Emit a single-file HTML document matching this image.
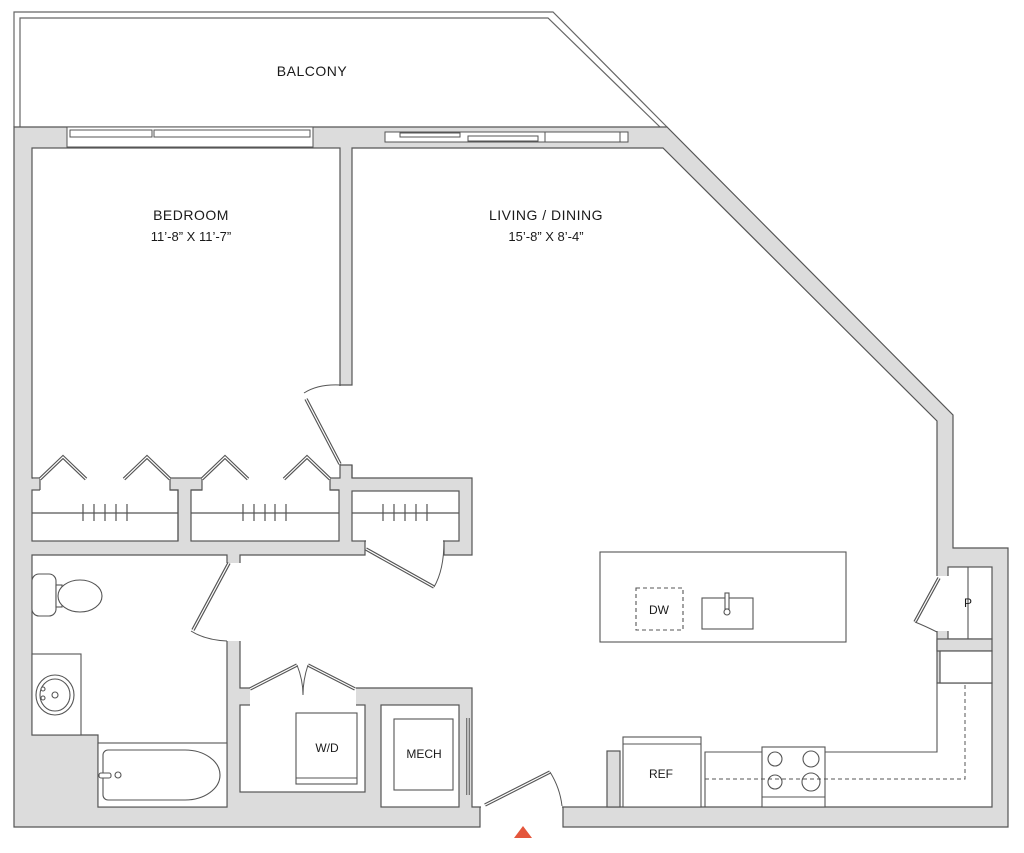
<!DOCTYPE html>
<html><head><meta charset="utf-8"><style>
html,body{margin:0;padding:0;background:#fff;width:1024px;height:853px;overflow:hidden}
svg{display:block}
text{font-family:"Liberation Sans",sans-serif;fill:#1a1a1a;text-anchor:middle}
</style></head><body>
<svg width="1024" height="853" viewBox="0 0 1024 853" xmlns="http://www.w3.org/2000/svg">
<g fill="none" stroke="#666" stroke-width="1.2">
<path d="M14,127 L14,12 L553,12 L667,127"/>
<path d="M20,127 L20,18 L548,18 L660,127"/>
</g>
<path d="M14,127 L667,127 L953,415 L953,548 L1008,548 L1008,827 L563,827 L563,806 L480,806 L480,827 L14,827 Z" fill="#dcdcdc" stroke="#555" stroke-width="1.2"/>
<g fill="#fff" stroke="#555" stroke-width="1.2">
<rect x="32" y="148" width="308" height="330"/>
<rect x="32" y="490" width="146" height="51"/>
<rect x="191" y="490" width="148" height="51"/>
<rect x="352" y="491" width="107" height="50"/>
<path d="M32,555 L227,555 L227,807 L98,807 L98,735 L32,735 Z"/>
<rect x="240" y="705" width="125" height="87"/>
<rect x="381" y="705" width="78" height="102"/>
<path d="M352,148 L663,148 L937,421 L937,683 L992,683 L992,807 L472,807 L472,688 L240,688 L240,555 L365,555 L365,541 L444,541 L444,555 L472,555 L472,478 L352,478 L352,465 L340,465 L340,385 L352,385 Z"/>
<rect x="948" y="567" width="44" height="72"/>
</g>
<g fill="#dcdcdc" stroke="#555" stroke-width="1.2">
<rect x="937" y="639" width="55" height="12"/>
<rect x="607" y="751" width="13" height="56"/>
</g>
<rect x="940" y="651" width="52" height="32" fill="#fff" stroke="#555" stroke-width="1.2"/>
<g fill="#fff">
<rect x="40" y="476" width="130" height="16"/>
<rect x="202" y="476" width="128" height="16"/>
<rect x="338" y="386" width="16" height="78"/>
<rect x="225" y="563" width="17" height="78"/>
<rect x="366" y="539" width="77" height="18"/>
<rect x="250" y="686" width="106" height="21"/>
<rect x="935" y="576" width="15" height="55"/>
<rect x="481" y="805" width="81" height="24"/>
<rect x="33" y="476" width="7" height="3"/>
</g>
<g fill="none" stroke="#555" stroke-width="1.2">
<path d="M32,478 L40,478 L40,490 M170,478 L170,490 L178,490 L178,541 M202,478 L202,490 L191,490 M330,478 L330,490 L339,490 M352,478 L352,465"/>
</g>
<g fill="#fff" stroke="#555" stroke-width="1">
<rect x="67" y="127" width="246" height="20"/>
<rect x="70" y="130" width="82" height="7"/>
<rect x="154" y="130" width="156" height="7"/>
<rect x="385" y="132" width="243" height="10"/>
<rect x="400" y="133" width="60" height="4"/>
<rect x="468" y="136" width="70" height="5"/>
<line x1="545" y1="132" x2="545" y2="142"/>
<line x1="620" y1="132" x2="620" y2="142"/>
</g>
<g fill="none" stroke="#555" stroke-width="3.5">
<path d="M40,479 L63,457 L86,479 M124,479 L147,457 L170,479 M202,479 L225,457 L248,479 M284,479 L307,457 L330,479"/>
</g>
<g fill="none" stroke="#fff" stroke-width="1.2">
<path d="M40,479 L63,457 L86,479 M124,479 L147,457 L170,479 M202,479 L225,457 L248,479 M284,479 L307,457 L330,479"/>
</g>
<g stroke="#555" stroke-width="1.2">
<line x1="32" y1="513" x2="178" y2="513"/><line x1="191" y1="513" x2="339" y2="513"/><line x1="352" y1="513" x2="459" y2="513"/>
<path d="M83,504V521M94,504V521M105,504V521M116,504V521M127,504V521 M243,504V521M254,504V521M265,504V521M275,504V521M286,504V521 M383,504V521M394,504V521M405,504V521M416,504V521M427,504V521"/>
</g>
<g fill="none" stroke="#555" stroke-width="3.5">
<path d="M340,464 L306,399"/><path d="M229,563 L193,630"/><path d="M366,549 L434,587"/>
<path d="M250,689 L297,665 M308,665 L355,689"/><path d="M939,578 L915,622"/><path d="M485,805 L550,772"/>
<path d="M468,718 V795"/>
</g>
<g fill="none" stroke="#fff" stroke-width="1.2">
<path d="M340,464 L306,399"/><path d="M229,563 L193,630"/><path d="M366,549 L434,587"/>
<path d="M250,689 L297,665 M308,665 L355,689"/><path d="M939,578 L915,622"/><path d="M485,805 L550,772"/>
<path d="M468,718 V795"/>
</g>
<g fill="none" stroke="#555" stroke-width="1">
<path d="M304,393 Q318,384 340,385"/>
<path d="M191,631 Q205,640 227,641"/>
<path d="M434,587 Q444,570 444,541"/>
<path d="M297,665 Q303,680 303,695 Q303,680 308,665"/>
<path d="M915,622 Q925,626 937,632"/>
<path d="M550,772 Q560,788 562,806"/>
</g>
<g fill="#fff" stroke="#555" stroke-width="1.1">
<rect x="32" y="654" width="49" height="81"/>
<ellipse cx="55" cy="695" rx="19" ry="20"/>
<ellipse cx="55" cy="695" rx="15" ry="16"/>
<rect x="32" y="574" width="24" height="42" rx="7"/>
<rect x="56" y="585" width="6" height="22"/>
<ellipse cx="80" cy="596" rx="22" ry="16"/>
<rect x="98" y="743" width="129" height="64"/>
<path d="M108,750 H185 A35,25 0 0 1 185,800 H108 A5,5 0 0 1 103,795 V755 A5,5 0 0 1 108,750 Z"/>
<rect x="99" y="773" width="12" height="5" rx="2"/>
<circle cx="118" cy="775" r="3"/>
<circle cx="43" cy="689" r="2"/><circle cx="43" cy="698" r="2"/>
<circle cx="55" cy="695" r="3"/>
</g>
<g fill="#fff" stroke="#555" stroke-width="1.1">
<rect x="296" y="713" width="61" height="71"/>
<line x1="296" y1="778" x2="357" y2="778"/>
<rect x="394" y="719" width="59" height="71"/>
</g>
<g fill="#fff" stroke="#555" stroke-width="1.1">
<rect x="600" y="552" width="246" height="90"/>
<rect x="636" y="588" width="47" height="42" stroke-dasharray="4,3"/>
<rect x="702" y="598" width="51" height="31"/>
<rect x="725" y="593" width="4" height="16"/>
<circle cx="727" cy="612" r="3"/>
<path d="M705,807 V752 H937 V683" fill="none"/>
<rect x="623" y="737" width="78" height="70"/>
<line x1="623" y1="744" x2="701" y2="744"/>
<rect x="762" y="747" width="63" height="60"/>
<line x1="762" y1="797" x2="825" y2="797"/>
<circle cx="775" cy="759" r="7"/><circle cx="811" cy="759" r="8"/>
<circle cx="775" cy="782" r="7"/><circle cx="811" cy="782" r="9"/>
<line x1="968" y1="567" x2="968" y2="639"/>
</g>
<path d="M705,779 H965 V683" fill="none" stroke="#555" stroke-width="1" stroke-dasharray="4,3"/>
<polygon points="514,838 532,838 523,826" fill="#e4563c"/>
<text x="312" y="76" font-size="14" letter-spacing="0.5">BALCONY</text>
<text x="191" y="220" font-size="14" letter-spacing="0.5">BEDROOM</text>
<text x="191" y="241" font-size="13">11’-8” X 11’-7”</text>
<text x="546" y="220" font-size="14" letter-spacing="0.5">LIVING / DINING</text>
<text x="546" y="241" font-size="13">15’-8” X 8’-4”</text>
<text x="659" y="614" font-size="12">DW</text>
<text x="661" y="778" font-size="12">REF</text>
<text x="327" y="752" font-size="12">W/D</text>
<text x="424" y="758" font-size="12">MECH</text>
<text x="968" y="607" font-size="12">P</text>
</svg>
</body></html>
